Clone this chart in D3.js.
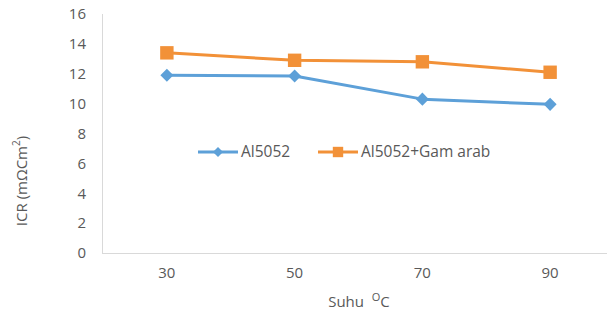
<!DOCTYPE html>
<html>
<head>
<meta charset="utf-8">
<script src="https://cdn.jsdelivr.net/npm/d3@7"></script>
<style>
  body { margin: 0; background: #fff; }
  svg text { font-family: "Open Sans", sans-serif; fill: #595959; }
</style>
</head>
<body>
<script>
// data
const temps = ["30", "50", "70", "90"];
const al5052 = [11.9, 11.85, 10.3, 9.95];
const al5052Gam = [13.4, 12.9, 12.8, 12.1];
const yTicks = [0, 2, 4, 6, 8, 10, 12, 14, 16];
const seriesNames = ["Al5052", "Al5052+Gam arab"];

const W = 607, H = 310;
const blue = "#5DA0D8", orange = "#F29138";

const svg = d3.select("body").append("svg")
  .attr("width", W)
  .attr("height", H);

// plot area runs past the right edge like the cropped original
const x = d3.scaleBand()
  .domain(temps)
  .range([103, 614]);

const y = d3.scaleLinear()
  .domain([0, 16])
  .range([253, 14]);

// axis lines
svg.append("line")
  .attr("x1", 102.5).attr("x2", 102.5)
  .attr("y1", y(16)).attr("y2", y(0))
  .attr("stroke", "#D9D9D9").attr("stroke-width", 1);

svg.append("line")
  .attr("x1", 102).attr("x2", W)
  .attr("y1", y(0) + 0.5).attr("y2", y(0) + 0.5)
  .attr("stroke", "#D9D9D9").attr("stroke-width", 1);

// y tick labels
svg.append("g").selectAll("text")
  .data(yTicks)
  .enter().append("text")
    .attr("x", 86)
    .attr("y", d => y(d))
    .attr("dy", "0.35em")
    .attr("text-anchor", "end")
    .attr("font-size", "15px")
    .text(d => d);

// x tick labels
svg.append("g").selectAll("text")
  .data(temps)
  .enter().append("text")
    .attr("x", d => x(d) + x.bandwidth() / 2)
    .attr("y", 273)
    .attr("dy", "0.35em")
    .attr("text-anchor", "middle")
    .attr("font-size", "15px")
    .text(d => d);

// axis titles
const yTitle = svg.append("text")
  .attr("transform", "translate(22,181) rotate(-90)")
  .attr("text-anchor", "middle")
  .attr("dy", "0.35em")
  .attr("font-size", "15px");
yTitle.append("tspan").text("ICR (mΩCm");
yTitle.append("tspan").attr("font-size", "10px").attr("dy", "-0.7em").text("2");
yTitle.append("tspan").attr("font-size", "15px").attr("dy", "0.45em").text(")");

const xTitle = svg.append("text")
  .attr("x", 359)
  .attr("y", 302)
  .attr("dy", "0.35em")
  .attr("text-anchor", "middle")
  .attr("font-size", "15px")
  .attr("xml:space", "preserve");
xTitle.append("tspan").text("Suhu  ");
xTitle.append("tspan").attr("font-size", "11px").attr("dy", "-0.55em").text("O");
xTitle.append("tspan").attr("font-size", "15px").attr("dy", "0.4em").text("C");

const cx = d => x(d) + x.bandwidth() / 2;

const line = d3.line()
  .x(d => cx(d.t))
  .y(d => y(d.v));

// diamond = square turned 45 degrees, like the Excel marker
const series = [
  { name: seriesNames[0], values: al5052, color: blue, size: 85, rot: 45 },
  { name: seriesNames[1], values: al5052Gam, color: orange, size: 180, rot: 0 }
];

series.forEach(s => {
  const pts = temps.map((t, i) => ({ t: t, v: s.values[i] }));

  svg.append("path")
    .datum(pts)
    .attr("fill", "none")
    .attr("stroke", s.color)
    .attr("stroke-width", 3)
    .attr("stroke-linejoin", "round")
    .attr("d", line);

  svg.append("g").selectAll("path")
    .data(pts)
    .enter().append("path")
      .attr("transform", d => `translate(${cx(d.t)},${y(d.v)}) rotate(${s.rot})`)
      .attr("d", d3.symbol().type(d3.symbolSquare).size(s.size))
      .attr("fill", s.color);
});

// legend
const legendX = [198, 318];
series.forEach((s, i) => {
  const g = svg.append("g")
    .attr("transform", `translate(${legendX[i]},152)`);

  g.append("line")
    .attr("x1", 0).attr("x2", 40)
    .attr("stroke", s.color)
    .attr("stroke-width", 3);

  g.append("path")
    .attr("transform", `translate(20,0) rotate(${s.rot})`)
    .attr("d", d3.symbol().type(d3.symbolSquare).size(s.size * 0.6))
    .attr("fill", s.color);

  g.append("text")
    .attr("x", 43)
    .attr("dy", "0.35em")
    .attr("font-size", "15.5px")
    .text(s.name);
});
</script>
</body>
</html>
